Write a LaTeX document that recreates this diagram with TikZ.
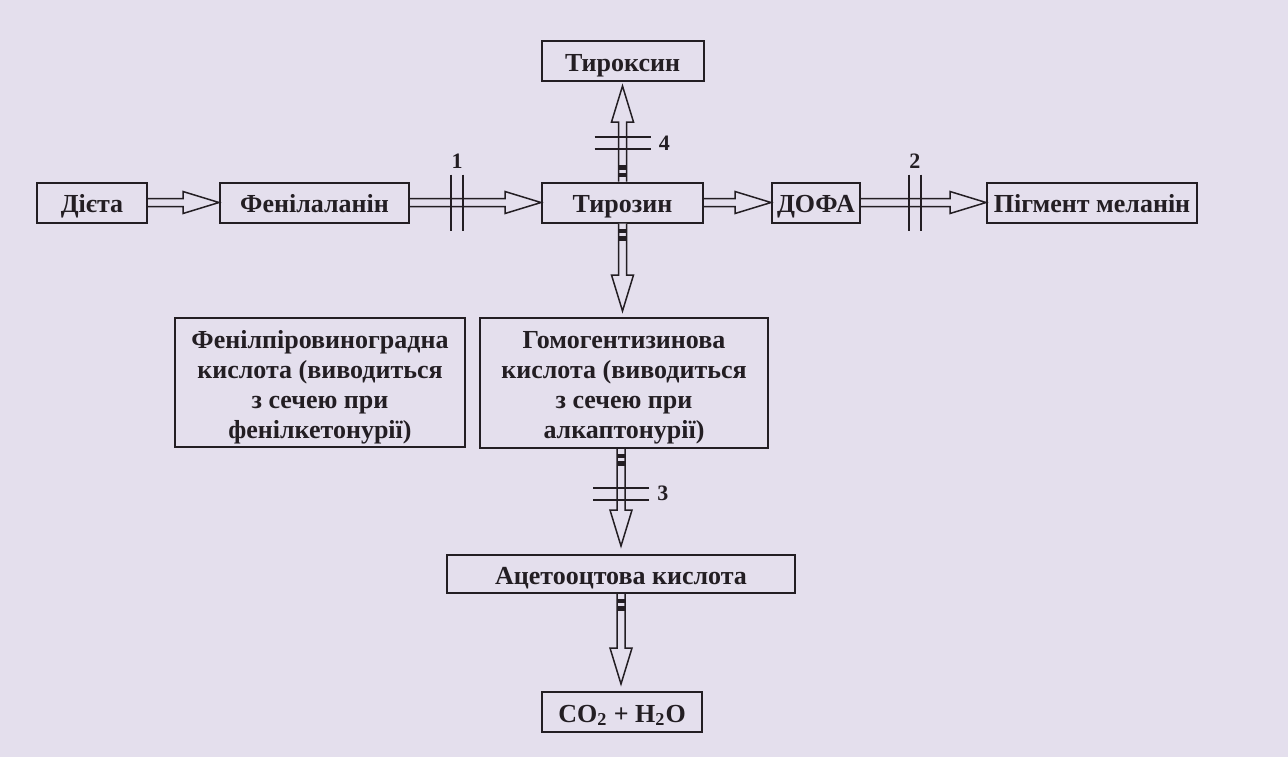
\documentclass[tikz,border=0pt]{standalone}
\usepackage{fontspec}
\setmainfont{Liberation Serif}
\usetikzlibrary{positioning,calc}
\definecolor{paper}{RGB}{228,223,237}
\definecolor{ink}{RGB}{35,30,35}

\tikzset{
box/.style={draw=ink,line width=1pt,inner sep=0pt,text=ink,
  font=\fontsize{13}{15.5}\selectfont\bfseries,minimum height=20pt,
  text height=11pt,text depth=1pt},
textbox/.style={draw=ink,line width=1pt,inner sep=0pt,text=ink,align=center,
  font=\fontsize{13}{15}\selectfont\bfseries},
num/.style={font=\fontsize{11}{12}\selectfont\bfseries,text=ink,inner sep=1pt},
flow/.style={draw=ink,line width=0.75pt,fill=paper,line join=miter}
}
\newcommand{\topgap}{\rule{0pt}{13.5pt}}

% hollow arrow from #1 to #2
\newcommand{\flowarrow}[2]{%
\coordinate (hb) at ($(#2)!18pt!(#1)$);
\draw[flow] ($(#1)!2pt!90:(#2)$) -- ($(hb)!2pt!90:(#2)$) -- ($(hb)!5.5pt!90:(#2)$)
  -- (#2) -- ($(hb)!5.5pt!-90:(#2)$) -- ($(hb)!2pt!-90:(#2)$) -- ($(#1)!2pt!-90:(#2)$);
}
% block sign on arrow #1->#2 at #3, named #4
\newcommand{\breakmark}[4]{%
\coordinate (#4) at ($(#1)!#3!(#2)$);
\coordinate (#4-p) at ($(#4)!14pt!90:(#2)$);
\coordinate (#4-m) at ($(#4)!14pt!-90:(#2)$);
\coordinate (#4-a) at ($(#4)!3pt!(#2)$);
\coordinate (#4-b) at ($(#4)!3pt!(#1)$);
\draw[ink,line width=1pt] ($(#4-a)!14pt!90:(#2)$) -- ($(#4-a)!14pt!-90:(#2)$)
  ($(#4-b)!14pt!90:(#2)$) -- ($(#4-b)!14pt!-90:(#2)$);
}
% dark bars at the start of a vertical arrow
\newcommand{\stub}[2]{%
\draw[ink,line width=4.5pt] ($(#1)!2.5pt!(#2)$) -- ($(#1)!4.5pt!(#2)$)
  ($(#1)!6pt!(#2)$) -- ($(#1)!8.5pt!(#2)$);
}

\begin{document}
\begin{tikzpicture}[x=0.5pt,y=-0.5pt]
\fill[paper] (0,0) rectangle (1288,757);
\useasboundingbox (0,0) rectangle (1288,757);

\node[box,minimum width=55pt] (dieta) at (92,202.5) {Дієта};
\node[box,minimum width=94.5pt] (fenil) at (314.5,202.5) {Фенілаланін};
\node[box,minimum width=80.5pt] (tyr) at (622.5,202.5) {Тирозин};
\node[box,minimum width=81pt] (tyrox) at (622.5,61) {Тироксин};
\node[box,minimum width=44pt] (dofa) at (816,202.5) {ДОФА};
\node[box,minimum width=105pt] (pigm) at (1092,202.5) {Пігмент меланін};
\node[textbox,minimum width=145pt,minimum height=64.5pt] (fpv) at (320,382.5)
  {\topgap Фенілпіровиноградна\\кислота (виводиться\\з сечею при\\фенілкетонурії)};
\node[textbox,minimum width=144pt,minimum height=65pt] (hga) at (624,383)
  {\topgap Гомогентизинова\\кислота (виводиться\\з сечею при\\алкаптонурії)};
\node[box,minimum width=174pt,minimum height=19pt] (aceto) at (621,574) {Ацетооцтова кислота};
\node[box,minimum width=80pt] (co2) at (622,712) {CO\textsubscript{2} + H\textsubscript{2}O};

% arrow ends
\coordinate (tyrox-in) at ($(tyr.north |- tyrox.south)+(0,-2pt)$);
\coordinate (hga-in) at ($(tyr.south |- hga.north)+(0,3pt)$);
\coordinate (hga-out) at (aceto.north |- hga.south);
\coordinate (aceto-in) at ($(aceto.north)+(0,4pt)$);
\coordinate (co2-in) at ($(aceto.south |- co2.north)+(0,3.5pt)$);

\flowarrow{dieta.east}{fenil.west}
\flowarrow{fenil.east}{tyr.west}
\flowarrow{tyr.east}{dofa.west}
\flowarrow{dofa.east}{pigm.west}
\flowarrow{tyr.north}{tyrox-in}
\flowarrow{tyr.south}{hga-in}
\flowarrow{hga-out}{aceto-in}
\flowarrow{aceto.south}{co2-in}

\stub{tyr.north}{tyrox-in}
\stub{tyr.south}{hga-in}
\stub{hga-out}{aceto-in}
\stub{aceto.south}{co2-in}

\breakmark{fenil.east}{tyr.west}{0.36}{b1}
\breakmark{dofa.east}{pigm.west}{0.43}{b2}
\breakmark{hga-out}{aceto-in}{0.46}{b3}
\breakmark{tyr.north}{tyrox-in}{0.40}{b4}

\node[num,above=2pt of b1-p] (n1) {1};
\node[num,above=2pt of b2-p] (n2) {2};
\node[num,right=3pt of b3-p] (n3) {3};
\node[num,right=3pt of b4-m] (n4) {4};
\end{tikzpicture}
\end{document}
